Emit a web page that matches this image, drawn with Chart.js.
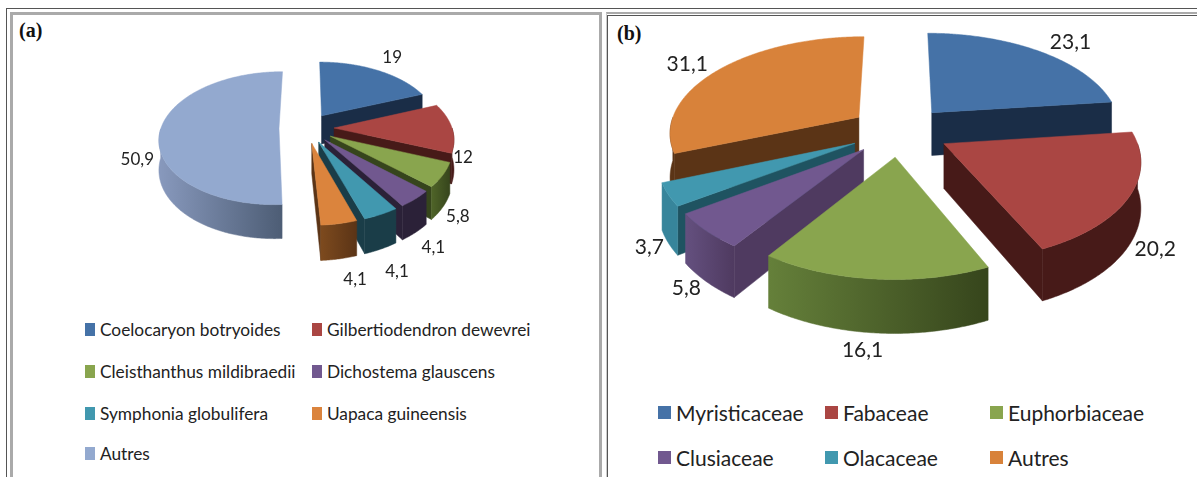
<!DOCTYPE html>
<html>
<head>
<meta charset="utf-8">
<title>Pies</title>
<script src="https://cdn.jsdelivr.net/npm/chart.js@4"></script>
<style>
  html, body { margin: 0; padding: 0; background: #fff; }
  body { position: relative; width: 1197px; height: 477px; overflow: hidden; font-family: Lato, sans-serif; color: #222; }
  .line { position: absolute; box-sizing: border-box; }
  canvas { position: absolute; }
  .tag { position: absolute; font: bold 20px "Liberation Serif", serif; color: #111; }
  .key { position: absolute; white-space: nowrap; }
  .key i { position: absolute; left: 0; top: 50%; transform: translateY(-50%); }
</style>
</head>
<body>
<div class="line" style="left:6px;top:8px;width:1300px;height:500px;border:1.5px solid #555"></div>
<div class="line" style="left:10px;top:12px;width:592px;height:500px;border:3px solid #aaa"></div>
<div class="line" style="left:606px;top:12px;width:700px;height:500px;border-top:2px solid #aaa;border-left:1px solid #ccc"></div>
<div class="line" style="left:607px;top:15px;width:700px;height:500px;border:1.5px solid #555"></div>
<div class="tag" style="left:19px;top:19px">(a)</div>
<div class="tag" style="left:617px;top:22px">(b)</div>
<canvas id="pieA" width="593" height="300" style="left:10px;top:15px"></canvas>
<canvas id="pieB" width="587" height="350" style="left:610px;top:15px"></canvas>
<div id="legendA"></div>
<div id="legendB"></div>
<script>
const speciesLabels = ['Coelocaryon botryoides', 'Gilbertiodendron dewevrei', 'Cleisthanthus mildibraedii', 'Dichostema glauscens', 'Symphonia globulifera', 'Uapaca guineensis', 'Autres'];
const speciesValues = [19, 12, 5.8, 4.1, 4.1, 4.1, 50.9];
const familyLabels = ['Myristicaceae', 'Fabaceae', 'Euphorbiaceae', 'Clusiaceae', 'Olacaceae', 'Autres'];
const familyValues = [23.1, 20.2, 16.1, 5.8, 3.7, 31.1];

const topColorsA = ['#4572a7', '#aa4643', '#89a54e', '#71588f', '#4198af', '#db843d', '#93a9cf'];
const topColorsB = ['#4572a7', '#aa4643', '#89a54e', '#71588f', '#4198af', '#d8823a'];

// wall = left/right of the rim gradient, cut = the flat inner face
const wallsA = [
  { wall: ['#1a2d47', '#1a2d47'], cut: '#1a2d47' },
  { wall: ['#471a18', '#471a18'], cut: '#471a18' },
  { wall: ['#4f6428', '#36451c'], cut: '#36451c' },
  { wall: ['#2b2138', '#2b2138'], cut: '#2b2138' },
  { wall: ['#1a3d48', '#1a3d48'], cut: '#1a3d48' },
  { wall: ['#7d4a1e', '#5b3416'], cut: '#5b3416' },
  { wall: ['#8899bd', '#4d5d75'], cut: '#4d5d75' }
];
const wallsB = [
  { wall: ['#1a2d47', '#1a2d47'], cut: '#1a2d47' },
  { wall: ['#471a18', '#471a18'], cut: '#471a18' },
  { wall: ['#65803a', '#36451c'], cut: '#36451c' },
  { wall: ['#64507f', '#4f3a60'], cut: '#4f3a60' },
  { wall: ['#37859b', '#37859b'], cut: '#1f5361' },
  { wall: ['#5b3416', '#5b3416'], cut: '#5b3416' }
];

const nudgeA = [[14.5, -13], [11, 30], [15, 42], [18, 49], [16, 57], [16, 56], [-23, 29]];
const nudgeB = [[31, -9], [26, 53], [-12, 71], [-20, 57.5], [-19, 53], [-32, -5]];

// draws the library's arcs as extruded sectors seen in perspective
const pie3d = {
  id: 'pie3d',
  beforeDatasetDraw(chart, args, opts) {
    const ctx = chart.ctx;
    const arcs = chart.getDatasetMeta(args.index).data;
    const { tilt, eye, depth } = opts;

    const shape = arcs.map((arc, i) => {
      const p = arc.getProps(['x', 'y', 'startAngle', 'endAngle', 'outerRadius'], true);
      const mid = (p.startAngle + p.endAngle) / 2;
      const off = arc.options.offset;
      const ox = Math.cos(mid) * off, oy = Math.sin(mid) * off;
      const project = (a, r, down) => {
        const u = ox + Math.cos(a) * r, v = oy + Math.sin(a) * r;
        const s = eye / (eye - v);
        return [p.x + u * s, p.y + tilt * v * s + (down ? depth * s : 0)];
      };
      return { i, p, mid, project };
    });

    // back slices first
    shape.slice().sort((a, b) => Math.sin(a.mid) - Math.sin(b.mid)).forEach(({ i, p, project }) => {
      const style = opts.walls[i];
      const R = p.outerRadius;
      const poly = (pts, fill) => {
        ctx.beginPath();
        pts.forEach((pt, n) => n ? ctx.lineTo(pt[0], pt[1]) : ctx.moveTo(pt[0], pt[1]));
        ctx.closePath();
        ctx.fillStyle = fill;
        ctx.strokeStyle = fill;
        ctx.lineWidth = 0.5;
        ctx.fill();
        ctx.stroke();
      };
      const quad = a => [project(a, 0), project(a, R), project(a, R, true), project(a, 0, true)];

      // sample the rim, always ending exactly on the end angle
      const rim = [];
      for (let a = p.startAngle; a < p.endAngle; a += 0.01) rim.push(a);
      rim.push(p.endAngle);

      if (-Math.cos(p.startAngle) > 0) poly(quad(p.startAngle), style.cut);
      if (Math.cos(p.endAngle) > 0) poly(quad(p.endAngle), style.cut);

      // rim, front facing part only
      const front = rim.filter(a => Math.sin(a) >= 0);
      if (front.length > 1) {
        const top = front.map(a => project(a, R));
        const bottom = front.map(a => project(a, R, true)).reverse();
        const x0 = Math.min(...top.map(t => t[0])), x1 = Math.max(...top.map(t => t[0]));
        const grad = ctx.createLinearGradient(x0, 0, Math.max(x1, x0 + 1), 0);
        grad.addColorStop(0, style.wall[0]);
        grad.addColorStop(1, style.wall[1]);
        poly(top.concat(bottom), grad);
      }

      poly([project(0, 0)].concat(rim.map(a => project(a, R))), chart.data.datasets[args.index].backgroundColor[i]);
    });

    // value labels
    ctx.fillStyle = '#222';
    ctx.font = opts.font;
    ctx.textAlign = 'center';
    ctx.textBaseline = 'middle';
    shape.forEach(({ i, p, mid, project }) => {
      const at = project(mid, p.outerRadius);
      const txt = String(chart.data.datasets[args.index].data[i]).replace('.', ',');
      ctx.fillText(txt, at[0] + opts.nudge[i][0], at[1] + opts.nudge[i][1]);
    });
    return false;
  }
};

function makePie(id, labels, values, colors, radius, offset, padding, plug) {
  return new Chart(document.getElementById(id), {
    type: 'pie',
    data: { labels: labels, datasets: [{ data: values, backgroundColor: colors, offset: offset, borderWidth: 0 }] },
    options: {
      responsive: false,
      animation: false,
      radius: radius,
      layout: { padding: padding },
      plugins: { legend: { display: false }, tooltip: { enabled: false }, pie3d: plug }
    },
    plugins: [pie3d]
  });
}

makePie('pieA', speciesLabels, speciesValues, topColorsA, 118, 27.5, { bottom: 74 },
  { tilt: 0.55, eye: 806, depth: 29, walls: wallsA, nudge: nudgeA, font: '17px Lato' });
makePie('pieB', familyLabels, familyValues, topColorsB, 190, 50, { right: 8, bottom: 118 },
  { tilt: 0.505, eye: 1300, depth: 44, walls: wallsB, nudge: nudgeB, font: '21px Lato' });

// legends laid out like the original, columns by hand
function makeLegend(id, labels, colors, spots, font, box, gap) {
  const host = document.getElementById(id);
  labels.forEach((name, i) => {
    const el = document.createElement('div');
    el.className = 'key';
    el.style.cssText = 'left:' + spots[i][0] + 'px;top:' + spots[i][1] + 'px;transform:translateY(-50%);padding-left:' + gap + 'px;font:' + font;
    const mark = document.createElement('i');
    mark.style.cssText = 'width:' + box[0] + 'px;height:' + box[1] + 'px;background:' + colors[i];
    el.appendChild(mark);
    el.appendChild(document.createTextNode(name));
    host.appendChild(el);
  });
}
makeLegend('legendA', speciesLabels, topColorsA,
  [[85, 329], [312, 329], [85, 371], [312, 371], [85, 413], [312, 413], [85, 453]], '17.3px Lato', [10, 13], 15);
makeLegend('legendB', familyLabels, topColorsB,
  [[658, 412], [825, 412], [990, 412], [658, 457], [825, 457], [990, 457]], '21px Lato', [13, 13], 18);
</script>
</body>
</html>
